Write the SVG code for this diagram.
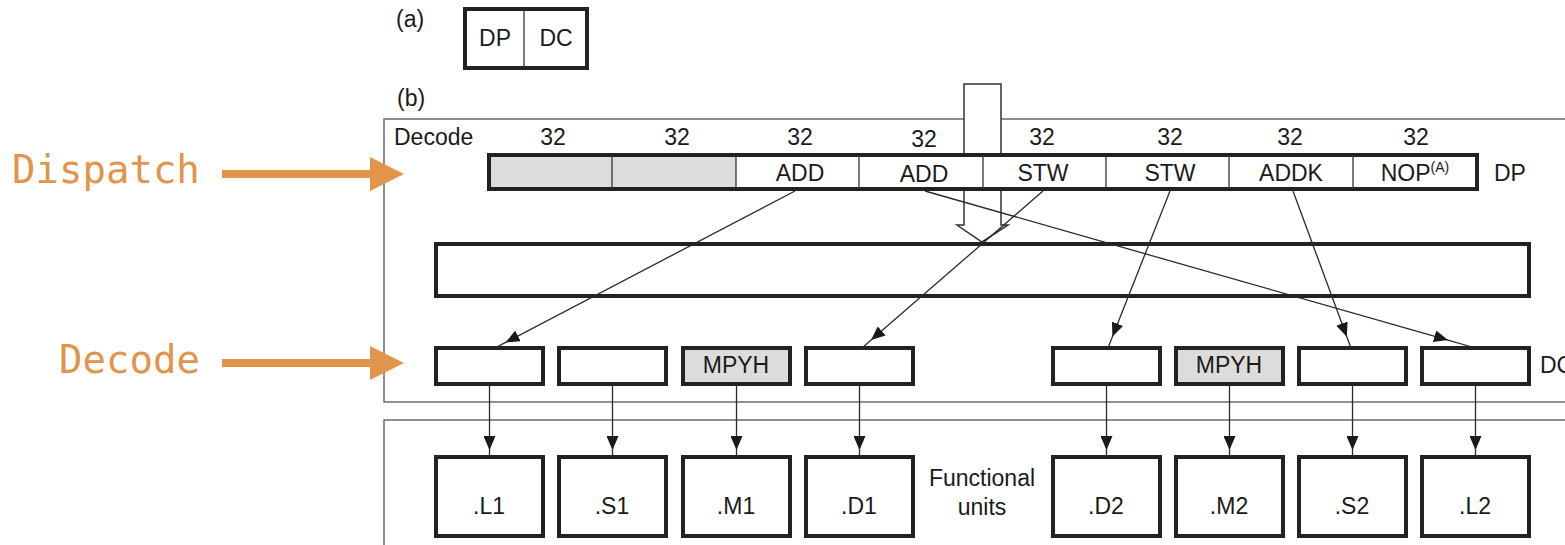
<svg xmlns="http://www.w3.org/2000/svg" width="1565" height="545" viewBox="0 0 1565 545">
  <defs>
    <marker id="tri" viewBox="0 0 14 12" refX="14" refY="6" markerWidth="14" markerHeight="12" markerUnits="userSpaceOnUse" orient="auto">
      <path d="M0,0 L14,6 L0,12 z" fill="#1a1a1a"/>
    </marker>
  </defs>
  <style>
    text { font-family: "Liberation Sans", Arial, sans-serif; fill: #1a1a1a; }
    .lbl { font-size: 23px; }
    .mid { text-anchor: middle; }
    .frame { fill: none; stroke: #6b6b6b; stroke-width: 1.5; }
    .box { fill: #fff; stroke: #222; stroke-width: 4; }
    .grey { fill: #dcdcdc; }
    .div { stroke: #333; stroke-width: 1.3; }
    .wire { fill: none; stroke: #2a2a2a; stroke-width: 1.3; marker-mid: url(#tri); }
    .note { font-family: "DejaVu Sans Mono", "Liberation Mono", monospace; font-size: 39px; fill: #e0954a; }
  </style>

  <!-- (a) two-stage pipeline -->
  <text class="lbl" x="396" y="27">(a)</text>
  <g id="stage-a">
    <rect class="box" x="465" y="9" width="122" height="59"/>
    <line class="div" x1="524" y1="9" x2="524" y2="68"/>
    <text class="lbl mid" x="495" y="46">DP</text>
    <text class="lbl mid" x="556" y="46">DC</text>
  </g>

  <!-- (b) -->
  <text class="lbl" x="397" y="106">(b)</text>

  <!-- stage frames -->
  <rect class="frame" x="384" y="119" width="1200" height="283"/>
  <rect class="frame" x="384" y="420" width="1200" height="140"/>
  <text class="lbl" x="394" y="145">Decode</text>

  <!-- fetch packet entering dispatch -->
  <g id="fetch-arrow">
    <polygon points="964,84 1001,84 1001,225 1008,225 982,242 957,225 964,225" fill="#fff" stroke="#333" stroke-width="1.5"/>
  </g>

  <!-- dispatch register -->
  <g id="dp-bar">
    <rect x="489" y="155" width="988" height="34" fill="#fff"/>
    <rect x="489" y="155" width="247" height="34" class="grey"/>
    <rect x="489" y="155" width="988" height="34" fill="none" stroke="#222" stroke-width="4"/>
    <line class="div" x1="612" y1="155" x2="612" y2="189"/>
    <line class="div" x1="736" y1="155" x2="736" y2="189"/>
    <line class="div" x1="859" y1="155" x2="859" y2="189"/>
    <line class="div" x1="983" y1="155" x2="983" y2="189"/>
    <line class="div" x1="1106" y1="155" x2="1106" y2="189"/>
    <line class="div" x1="1229" y1="155" x2="1229" y2="189"/>
    <line class="div" x1="1353" y1="155" x2="1353" y2="189"/>
    <text class="lbl mid" x="800" y="181">ADD</text>
    <text class="lbl mid" x="924" y="182">ADD</text>
    <text class="lbl mid" x="1043" y="181">STW</text>
    <text class="lbl mid" x="1170" y="181">STW</text>
    <text class="lbl mid" x="1291" y="181">ADDK</text>
    <text class="lbl mid" x="1415" y="181">NOP<tspan font-size="14" dy="-9">(A)</tspan></text>
    <text class="lbl" x="1494" y="181">DP</text>
  </g>

  <!-- field widths -->
  <g id="widths">
    <text class="lbl mid" x="553" y="145">32</text>
    <text class="lbl mid" x="677" y="145">32</text>
    <text class="lbl mid" x="800" y="145">32</text>
    <text class="lbl mid" x="924" y="147">32</text>
    <text class="lbl mid" x="1042" y="145">32</text>
    <text class="lbl mid" x="1170" y="145">32</text>
    <text class="lbl mid" x="1290" y="145">32</text>
    <text class="lbl mid" x="1416" y="145">32</text>
  </g>

  <!-- empty dispatch buffer -->
  <g id="buffer">
    <rect x="436" y="244" width="1093" height="52" fill="none" stroke="#222" stroke-width="4"/>
  </g>

  <!-- decode slots -->
  <g id="dc-row">
    <rect class="box" x="436" y="348" width="107" height="36"/>
    <rect class="box" x="559" y="348" width="107" height="36"/>
    <rect class="box grey" x="683" y="348" width="107" height="36"/>
    <text class="lbl mid" x="736" y="373">MPYH</text>
    <rect class="box" x="806" y="348" width="107" height="36"/>
    <rect class="box" x="1053" y="348" width="107" height="36"/>
    <rect class="box grey" x="1176" y="348" width="107" height="36"/>
    <text class="lbl mid" x="1229" y="373">MPYH</text>
    <rect class="box" x="1299" y="348" width="107" height="36"/>
    <rect class="box" x="1422" y="348" width="107" height="36"/>
    <text class="lbl" x="1540" y="373">DC</text>
  </g>

  <!-- routing from dispatch to decode, decode to units -->
  <g id="connectors">
    <path class="wire" d="M795,191 L505.6,342.4 L495,348"/>
    <path class="wire" d="M925,191 L1448,340.1 L1472,347"/>
    <path class="wire" d="M1043,191 L871.1,340.1 L862,348"/>
    <path class="wire" d="M1170,191 L1112.4,336.8 L1108,348"/>
    <path class="wire" d="M1293,191 L1346.8,336.7 L1351,348"/>

    <path class="wire" d="M489.5,386 L489.5,450 L489.5,457"/>
    <path class="wire" d="M612.5,386 L612.5,450 L612.5,457"/>
    <path class="wire" d="M736.5,386 L736.5,450 L736.5,457"/>
    <path class="wire" d="M859.5,386 L859.5,450 L859.5,457"/>
    <path class="wire" d="M1106.5,386 L1106.5,450 L1106.5,457"/>
    <path class="wire" d="M1229.5,386 L1229.5,450 L1229.5,457"/>
    <path class="wire" d="M1352.5,386 L1352.5,450 L1352.5,457"/>
    <path class="wire" d="M1475.5,386 L1475.5,450 L1475.5,457"/>
  </g>

  <!-- functional units -->
  <g id="unit-L1"><rect class="box" x="436" y="457" width="107" height="79"/><text class="lbl mid" x="489" y="514">.L1</text></g>
  <g id="unit-S1"><rect class="box" x="559" y="457" width="107" height="79"/><text class="lbl mid" x="612" y="514">.S1</text></g>
  <g id="unit-M1"><rect class="box" x="683" y="457" width="107" height="79"/><text class="lbl mid" x="736" y="514">.M1</text></g>
  <g id="unit-D1"><rect class="box" x="806" y="457" width="107" height="79"/><text class="lbl mid" x="859" y="514">.D1</text></g>
  <g id="unit-D2"><rect class="box" x="1053" y="457" width="107" height="79"/><text class="lbl mid" x="1106" y="514">.D2</text></g>
  <g id="unit-M2"><rect class="box" x="1176" y="457" width="107" height="79"/><text class="lbl mid" x="1229" y="514">.M2</text></g>
  <g id="unit-S2"><rect class="box" x="1299" y="457" width="107" height="79"/><text class="lbl mid" x="1352" y="514">.S2</text></g>
  <g id="unit-L2"><rect class="box" x="1422" y="457" width="107" height="79"/><text class="lbl mid" x="1475" y="514">.L2</text></g>
  <text class="lbl mid" x="982" y="486">Functional</text>
  <text class="lbl mid" x="982" y="515">units</text>

  <!-- stage callouts -->
  <g id="callout-dispatch">
    <text class="note" x="12" y="183">Dispatch</text>
    <line x1="222" y1="174" x2="372" y2="174" stroke="#e0954a" stroke-width="8"/>
    <polygon points="370,157 404,174 370,191" fill="#e0954a"/>
  </g>
  <g id="callout-decode">
    <text class="note" x="59" y="373">Decode</text>
    <line x1="222" y1="363" x2="372" y2="363" stroke="#e0954a" stroke-width="8"/>
    <polygon points="370,346 404,363 370,380" fill="#e0954a"/>
  </g>
</svg>
